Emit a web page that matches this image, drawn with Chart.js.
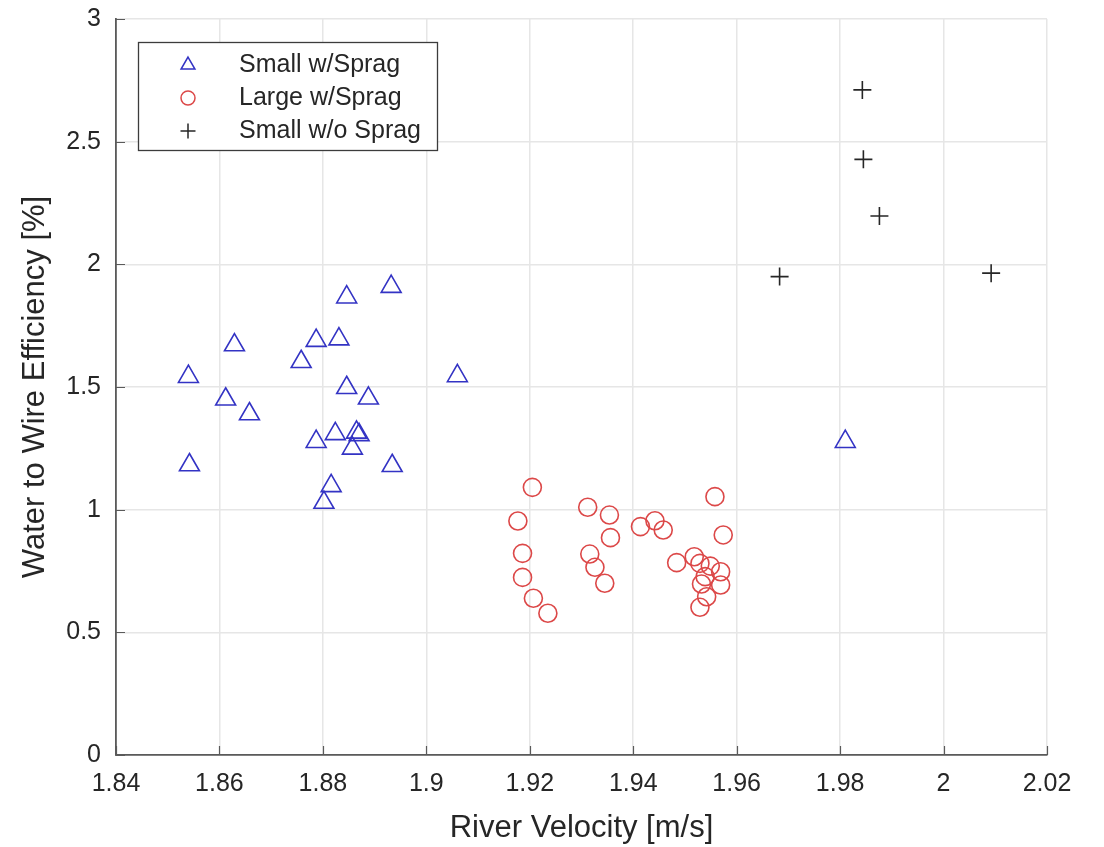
<!DOCTYPE html>
<html>
<head>
<meta charset="utf-8">
<script src="https://cdn.jsdelivr.net/npm/chart.js@4.4.1/dist/chart.umd.min.js"></script>
<style>
  html, body { margin: 0; padding: 0; background: #fff; }
  #wrap { width: 1104px; height: 847px; }
</style>
</head>
<body>
<div id="wrap"><canvas id="grafico" width="1104" height="847"></canvas></div>
<script>
// valores
const xSmallSprag = [1.8932, 1.8846, 1.8629, 1.8787, 1.8831, 1.8758, 1.8540, 1.9060, 1.8846, 1.8888, 1.8612,
  1.8658, 1.8824, 1.8865, 1.8870, 1.8857, 1.8787, 1.8542, 1.8934, 1.8816, 1.8802, 1.9810];
const ySmallSprag = [1.909, 1.866, 1.671, 1.689, 1.695, 1.603, 1.542, 1.545, 1.497, 1.454, 1.450,
  1.390, 1.309, 1.315, 1.305, 1.250, 1.277, 1.182, 1.179, 1.097, 1.029, 1.277];
const xLargeSprag = [1.9205, 1.9177, 1.9186, 1.9186, 1.9207, 1.9235, 1.9312, 1.9354, 1.9356, 1.9316, 1.9326,
  1.9345, 1.9414, 1.9442, 1.9458, 1.9558, 1.9574, 1.9484, 1.9518, 1.9529, 1.9549, 1.9569, 1.9539, 1.9532,
  1.9569, 1.9542, 1.9529];
const yLargeSprag = [1.091, 0.954, 0.822, 0.724, 0.639, 0.578, 1.010, 0.978, 0.886, 0.819, 0.765,
  0.700, 0.931, 0.955, 0.917, 1.053, 0.897, 0.784, 0.808, 0.781, 0.770, 0.747, 0.727, 0.697,
  0.693, 0.645, 0.602];
const xSmallNoSprag = [1.9843, 1.9845, 1.9876, 1.9683, 2.0092];
const ySmallNoSprag = [2.711, 2.428, 2.197, 1.950, 1.964];

const xTicks = [1.84, 1.86, 1.88, 1.90, 1.92, 1.94, 1.96, 1.98, 2.00, 2.02];
const yTicks = [0, 0.5, 1, 1.5, 2, 2.5, 3];
const seriesNames = ['Small w/Sprag', 'Large w/Sprag', 'Small w/o Sprag'];

const FONTE = '"Liberation Sans", Arial, sans-serif';
const TEXTO = '#262626';
const cores = { azul: '#3333c4', vermelho: '#dc4848', preto: '#262626' };
const estilos = [
  { pointStyle: 'triangle', radius: 11.5, color: cores.azul, leg: 8 },
  { pointStyle: 'circle', radius: 9, color: cores.vermelho, leg: 7 },
  { pointStyle: 'cross', radius: 9, color: cores.preto, leg: 7.5 },
];

const pares = (xs, ys) => xs.map((x, i) => ({ x, y: ys[i] }));
const serie = (i, data) => ({
  label: seriesNames[i], data,
  pointStyle: estilos[i].pointStyle, pointRadius: estilos[i].radius, pointHoverRadius: estilos[i].radius,
  borderColor: estilos[i].color, backgroundColor: 'rgba(0,0,0,0)', pointBorderWidth: 1.6, showLine: false,
});

// marcas de escala para dentro, como no MATLAB
const ticksDentro = {
  id: 'ticksDentro',
  afterDatasetsDraw(chart) {
    const { ctx, chartArea: a, scales: { x, y } } = chart;
    ctx.save();
    ctx.strokeStyle = '#5a5a5a'; ctx.lineWidth = 1.2;
    ctx.beginPath();
    xTicks.forEach(v => { const px = Math.round(x.getPixelForValue(v)) + 0.5; ctx.moveTo(px, a.bottom); ctx.lineTo(px, a.bottom - 9); });
    yTicks.forEach(v => { const py = Math.round(y.getPixelForValue(v)) + 0.5; ctx.moveTo(a.left, py); ctx.lineTo(a.left + 9, py); });
    ctx.stroke();
    ctx.restore();
  },
};

// legenda dentro da área do gráfico
const legendaCaixa = {
  id: 'legendaCaixa',
  afterDraw(chart) {
    const { ctx } = chart;
    ctx.save();
    ctx.fillStyle = '#fff'; ctx.strokeStyle = '#3c3c3c'; ctx.lineWidth = 1.3;
    ctx.fillRect(138, 42, 299, 108);
    ctx.strokeRect(138.5, 42.5, 299, 108);
    ctx.font = '25px ' + FONTE;
    ctx.textBaseline = 'middle'; ctx.textAlign = 'left';
    [65, 98, 131].forEach((yy, i) => {
      ctx.strokeStyle = estilos[i].color; ctx.fillStyle = 'rgba(0,0,0,0)'; ctx.lineWidth = 1.5;
      Chart.helpers.drawPoint(ctx, { pointStyle: estilos[i].pointStyle, radius: estilos[i].leg, rotation: 0, borderWidth: 1.5 }, 188, yy);
      ctx.fillStyle = TEXTO;
      ctx.fillText(seriesNames[i], 239, yy);
    });
    ctx.restore();
  },
};

const fixarTicks = (lista) => (scale) => { scale.ticks = lista.map(v => ({ value: v })); };
const rotulo = (v) => String(Number(v.toFixed(2)));

new Chart(document.getElementById('grafico'), {
  type: 'scatter',
  data: {
    datasets: [
      serie(0, pares(xSmallSprag, ySmallSprag)),
      serie(1, pares(xLargeSprag, yLargeSprag)),
      serie(2, pares(xSmallNoSprag, ySmallNoSprag)),
    ],
  },
  options: {
    responsive: false, animation: false, devicePixelRatio: 1,
    layout: { padding: { top: 19, right: 57, left: 0, bottom: 0 } },
    plugins: { legend: { display: false }, tooltip: { enabled: false } },
    scales: {
      x: {
        type: 'linear', min: 1.84, max: 2.02,
        afterBuildTicks: fixarTicks(xTicks),
        afterFit: (s) => { s.height = 92; s.paddingLeft = 0; s.paddingRight = 0; },
        ticks: { color: TEXTO, font: { family: FONTE, size: 25 }, padding: 14, callback: rotulo, maxRotation: 0, autoSkip: false },
        grid: { color: '#e6e6e6', lineWidth: 1.5, drawTicks: false },
        border: { display: true, color: '#5a5a5a', width: 1.8 },
        title: { display: true, text: 'River Velocity [m/s]', color: TEXTO, font: { family: FONTE, size: 31 }, padding: { top: 0, bottom: 0 } },
      },
      y: {
        type: 'linear', min: 0, max: 3,
        afterBuildTicks: fixarTicks(yTicks),
        afterFit: (s) => { s.width = 116; s.paddingTop = 0; s.paddingBottom = 0; },
        ticks: { color: TEXTO, font: { family: FONTE, size: 25 }, padding: 15, callback: rotulo },
        grid: { color: '#e6e6e6', lineWidth: 1.5, drawTicks: false },
        border: { display: true, color: '#5a5a5a', width: 1.8 },
        title: { display: true, text: 'Water to Wire Efficiency [%]', color: TEXTO, font: { family: FONTE, size: 31 }, padding: { top: 17, bottom: 0 } },
      },
    },
  },
  plugins: [ticksDentro, legendaCaixa],
});
</script>
</body>
</html>
